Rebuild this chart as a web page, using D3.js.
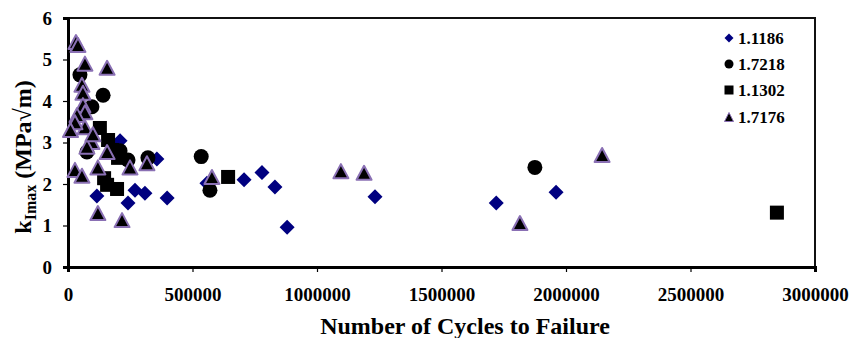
<!DOCTYPE html>
<html><head><meta charset="utf-8">
<script src="https://cdn.jsdelivr.net/npm/d3@7"></script>
<style>body{margin:0;background:#fff}text{font-family:"Liberation Serif","Times New Roman",serif;font-weight:bold}</style>
</head><body><svg id="c" width="851" height="338"></svg>
<script>
const xTicks=[0,500000,1000000,1500000,2000000,2500000,3000000];
const yTicks=[0,1,2,3,4,5,6];
const seriesNames=["1.1186","1.7218","1.1302","1.7176"];
const s1186X=[209000,357000,116000,241000,269000,309000,398000,558000,707000,779000,831000,880000,1233000,1720000,1960000];
const s1186Y=[3.04,2.6,1.71,1.54,1.85,1.78,1.66,2.02,2.1,2.28,1.93,0.96,1.69,1.54,1.8];
const s7218X=[48000,141000,96000,76000,209000,241000,321000,535000,570000,1875000];
const s7218Y=[4.63,4.14,3.86,2.77,2.8,2.58,2.63,2.66,1.85,2.4];
const s1302X=[128000,161000,177000,201000,145000,157000,197000,643000,2847000];
const s1302Y=[3.35,3.06,2.82,2.63,2.14,1.98,1.88,2.17,1.31];
const s7176X=[32000,40000,68000,157000,56000,60000,60000,68000,36000,68000,28000,96000,76000,157000,28000,56000,120000,249000,317000,120000,217000,578000,1096000,1189000,1815000,2145000,10000,100000];
const s7176Y=[5.42,5.35,4.9,4.8,4.39,4.2,3.9,3.73,3.66,3.37,3.49,3.01,2.9,2.77,2.34,2.2,2.4,2.4,2.5,1.3,1.13,2.17,2.31,2.27,1.06,2.7,3.3,3.2];

const svg=d3.select("#c");
const x=d3.scaleLinear().domain([0,3000000]).range([68,815]);
const y=d3.scaleLinear().domain([0,6]).range([267,18]);

// plot box
svg.append("rect").attr("x",68).attr("y",18).attr("width",747).attr("height",249)
  .attr("fill","none").attr("stroke","#111").attr("stroke-width",2);

const gx=svg.append("g").attr("transform","translate(0,267)")
  .call(d3.axisBottom(x).tickValues(xTicks).tickFormat(d3.format("d")).tickSize(5).tickPadding(16));
gx.selectAll("text").attr("font-size",19).attr("fill","#000");
const gy=svg.append("g").attr("transform","translate(68,0)")
  .call(d3.axisLeft(y).tickValues(yTicks).tickFormat(d3.format("d")).tickSize(5).tickPadding(11));
gy.selectAll("text").attr("font-size",19).attr("fill","#000");
[gx,gy].forEach(g=>{g.select(".domain").attr("stroke-width",3).attr("stroke","#000");g.selectAll(".tick line").attr("stroke","#000").attr("stroke-width",1.2);});

svg.append("text").attr("x",465).attr("y",334).attr("text-anchor","middle").attr("font-size",24).text("Number of Cycles to Failure");
const yt=svg.append("text").attr("transform","translate(31,157) rotate(-90)").attr("text-anchor","middle").attr("font-size",24);
yt.append("tspan").text("k");
yt.append("tspan").attr("font-size",16).attr("dy",5).text("Imax");
yt.append("tspan").attr("dy",-5).text(" (MPa\u221Am)");

const zip=(a,b)=>a.map((v,i)=>[v,b[i]]);
const diamond=s=>`M0,${-s}L${s},0L0,${s}L${-s},0Z`;
const tri=(w,h)=>`M0,${-h/2}L${w/2},${h/2}L${-w/2},${h/2}Z`;

svg.append("g").selectAll("path").data(zip(s1186X,s1186Y)).join("path")
  .attr("d",diamond(7.5)).attr("fill","#000080")
  .attr("transform",d=>`translate(${x(d[0])},${y(d[1])})`);
svg.append("g").selectAll("circle").data(zip(s7218X,s7218Y)).join("circle")
  .attr("r",7.5).attr("fill","#000").attr("cx",d=>x(d[0])).attr("cy",d=>y(d[1]));
svg.append("g").selectAll("rect").data(zip(s1302X,s1302Y)).join("rect")
  .attr("width",14).attr("height",14).attr("fill","#000").attr("x",d=>x(d[0])-7).attr("y",d=>y(d[1])-7);
svg.append("g").selectAll("path").data(zip(s7176X,s7176Y)).join("path")
  .attr("d",tri(15,14)).attr("fill","#000").attr("stroke","#8a70b4").attr("stroke-width",2).attr("stroke-linejoin","round")
  .attr("transform",d=>`translate(${x(d[0])},${y(d[1])})`);

// legend
const lg=svg.append("g");
const ly=[38,64,90,117];
lg.append("path").attr("d",diamond(4.5)).attr("fill","#000080").attr("transform",`translate(729,${ly[0]})`);
lg.append("circle").attr("r",4.5).attr("cx",729).attr("cy",ly[1]).attr("fill","#000");
lg.append("rect").attr("x",724.5).attr("y",ly[2]-4.5).attr("width",9).attr("height",9).attr("fill","#000");
lg.append("path").attr("d",tri(9,9)).attr("fill","#000").attr("stroke","#8a70b4").attr("stroke-width",1).attr("transform",`translate(729,${ly[3]})`);
seriesNames.forEach((n,i)=>lg.append("text").attr("x",738).attr("y",ly[i]+6).attr("font-size",17).text(n));
</script></body></html>
